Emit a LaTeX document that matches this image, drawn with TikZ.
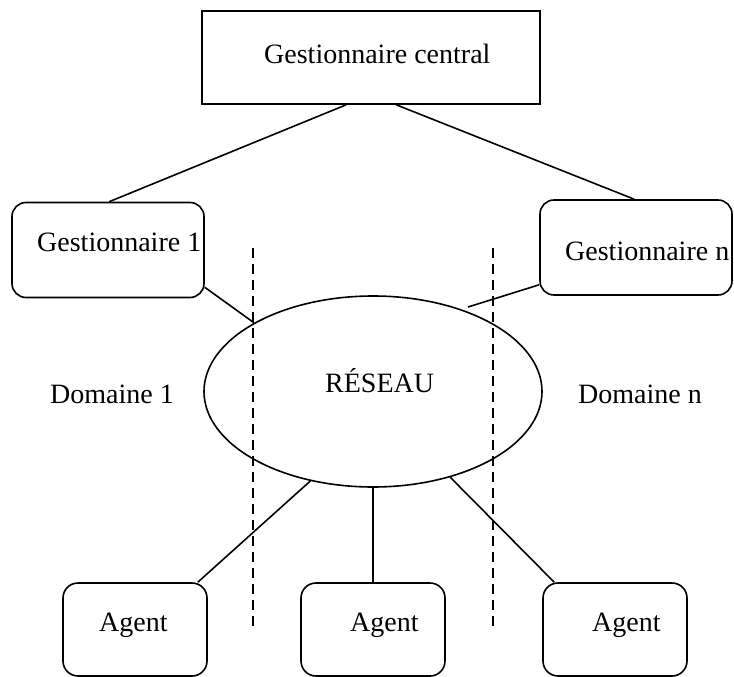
\documentclass[tikz,border=0pt]{standalone}
\usepackage{fontspec}
\setmainfont{Liberation Serif}
\usetikzlibrary{shapes.geometric}
\begin{document}
\begin{tikzpicture}[x=1pt,y=-1pt,
  every node/.style={inner sep=0pt},
  line/.style={line width=1.6pt},
  sqbox/.style={draw,line width=1.6pt,rectangle,minimum width=338pt,minimum height=93pt},
  rbox/.style={draw,line width=1.6pt,rectangle,rounded corners=14pt,minimum width=192pt,minimum height=95pt},
  abox/.style={draw,line width=1.6pt,rectangle,rounded corners=15pt,minimum width=144pt,minimum height=93pt},
  lbl/.style={anchor=base west,font=\fontsize{28}{32}\selectfont},
  sep/.style={line width=1.3pt,dash pattern=on 10pt off 6pt}]
\useasboundingbox (0,0) rectangle (734,677);
% boxes
\node[sqbox] (central) at (371,57.5) {};
\node[rbox] (g1) at (108,250) {};
\node[rbox] (gn) at (636,247.5) {};
\node[draw,line width=1.6pt,ellipse,minimum width=338pt,minimum height=191pt] (res) at (373,391.5) {};
\node[abox] (a1) at (135,629.5) {};
\node[abox] (a2) at (373,629.5) {};
\node[abox] (a3) at (615,629.5) {};
% texts
\node[lbl] (tc) at (264,64) {Gestionnaire central};
\node[lbl] (t1) at (37,251) {Gestionnaire 1};
\node[lbl] (tn) at (565,260) {Gestionnaire n};
\node[lbl] (tr) at (325,392) {RÉSEAU};
\node[lbl] (d1) at (50,403) {Domaine 1};
\node[lbl] (dn) at (578,403) {Domaine n};
\node[lbl] (ta1) at (99,631) {Agent};
\node[lbl] (ta2) at (350,631) {Agent};
\node[lbl] (ta3) at (592,631) {Agent};
% connectors
\draw[line] ([xshift=145pt]central.south west) -- ([xshift=98pt]g1.north west);
\draw[line] ([xshift=195pt]central.south west) -- ([xshift=95pt]gn.north west);
\draw[line] ([yshift=11pt]g1.south east) -- (res.150);
\coordinate (gnend) at (468,307);
\draw[line] ([yshift=11pt]gn.south west) -- (gnend);
\draw[line] (res.235) -- ([xshift=-10pt]a1.north east);
\draw[line] (res.south) -- (a2.north);
\draw[line] (res.312) -- ([xshift=12pt]a3.north west);
% domain separators
\coordinate (s1t) at (253,248);
\coordinate (s1b) at (253,632);
\coordinate (s2t) at (493,248);
\coordinate (s2b) at (493,632);
\draw[sep] (s1t) -- (s1b);
\draw[sep] (s2t) -- (s2b);
\end{tikzpicture}
\end{document}
